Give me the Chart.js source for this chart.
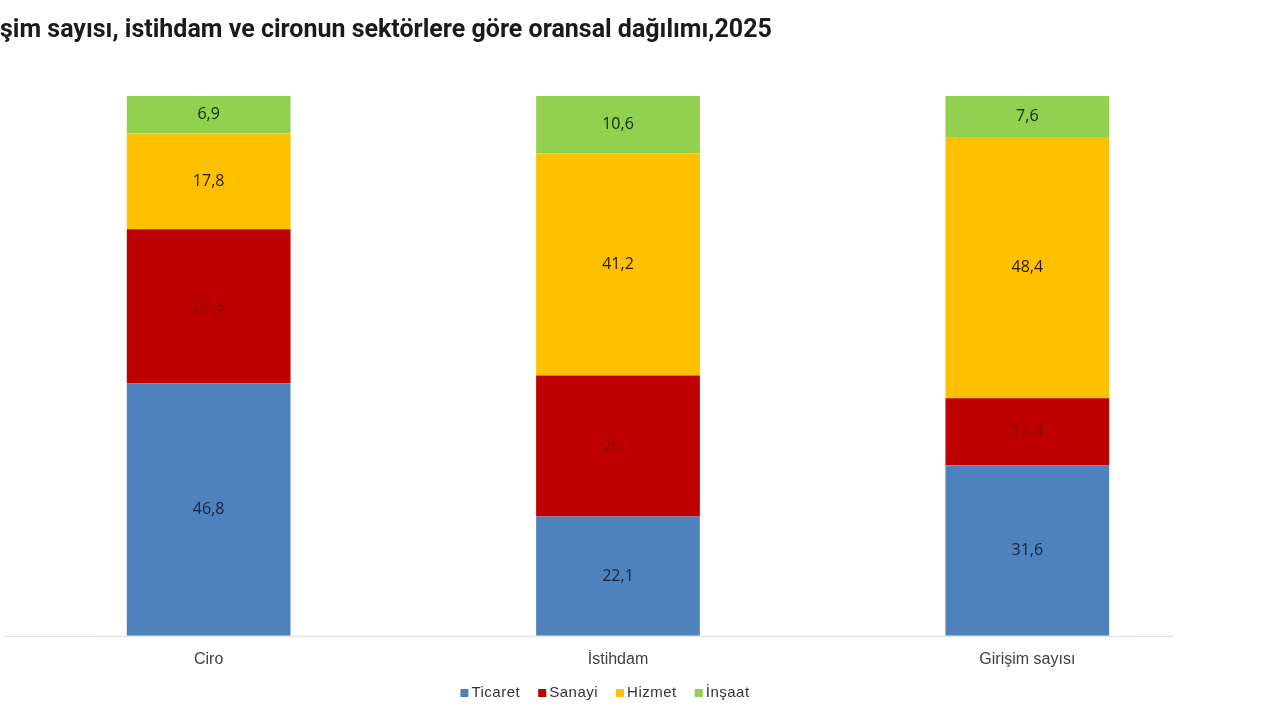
<!DOCTYPE html>
<html>
<head>
<meta charset="utf-8">
<script src="https://cdn.jsdelivr.net/npm/chart.js@4/dist/chart.umd.min.js"></script>
<style>
html,body{margin:0;padding:0;background:#fff;}
#wrap{width:1280px;height:720px;position:relative;}
</style>
</head>
<body>
<div id="wrap"><canvas id="c"></canvas></div>
<script>
const titleText = "Girişim sayısı, istihdam ve cironun sektörlere göre oransal dağılımı,2025";
const categories = ["Ciro", "İstihdam", "Girişim sayısı"];
const seriesNames = ["Ticaret", "Sanayi", "Hizmet", "İnşaat"];
const ticaret = [46.8, 22.1, 31.6];
const sanayi = [28.5, 26.1, 12.4];
const hizmet = [17.8, 41.2, 48.4];
const insaat = [6.9, 10.6, 7.6];
const colors = ["#4F81BD", "#C00000", "#FFC000", "#92D050"];
const labelColors = ["#14233f", "#8E0000", "#2a1a00", "#0f2a00"];

const seriesData = [ticaret, sanayi, hizmet, insaat];

const labelPlugin = {
  id: 'segLabels',
  afterDatasetsDraw(chart) {
    const ctx = chart.ctx;
    ctx.save();
    ctx.font = '16px "Open Sans", "DejaVu Sans", sans-serif';
    ctx.textAlign = 'center';
    ctx.textBaseline = 'middle';
    chart.data.datasets.forEach((ds, i) => {
      const meta = chart.getDatasetMeta(i);
      meta.data.forEach((bar, j) => {
        const v = ds.data[j];
        const y = (bar.y + bar.base) / 2;
        ctx.fillStyle = labelColors[i];
        ctx.fillText(v.toFixed(1).replace('.', ','), bar.x, y);
      });
    });
    ctx.restore();
  }
};

const decoPlugin = {
  id: 'deco',
  beforeDatasetsDraw(chart) {
    const ctx = chart.ctx;
    const a = chart.chartArea;
    ctx.save();
    ctx.strokeStyle = '#d9d9d9';
    ctx.lineWidth = 1;
    ctx.beginPath();
    ctx.moveTo(4, a.bottom + 0.5);
    ctx.lineTo(1173, a.bottom + 0.5);
    ctx.stroke();
    ctx.restore();
  },
  afterDraw(chart) {
    const ctx = chart.ctx;
    ctx.save();
    // title (left part clipped as in the source image)
    ctx.font = 'bold 25px Roboto, "Liberation Sans", sans-serif';
    ctx.fillStyle = '#1a1a1a';
    ctx.textBaseline = 'middle';
    ctx.textAlign = 'left';
    const off = ctx.measureText("Giri").width;
    ctx.fillText(titleText, -off, 31);

    // legend
    ctx.font = '15px "Liberation Sans", Arial, sans-serif';
    if ('letterSpacing' in ctx) ctx.letterSpacing = '0.5px';
    const box = 8, gapBox = 3, gapItem = 18;
    const items = chart.data.datasets.map(ds => ({ t: ds.label, c: ds.backgroundColor, w: ctx.measureText(ds.label).width }));
    const total = items.reduce((s, it) => s + box + gapBox + it.w, 0) + gapItem * (items.length - 1);
    const a = chart.chartArea;
    let x = (a.left + a.right) / 2 - 13 - total / 2;
    const y = 693;
    items.forEach(it => {
      ctx.fillStyle = it.c;
      ctx.fillRect(x, y - box / 2, box, box);
      x += box + gapBox;
      ctx.fillStyle = '#333333';
      ctx.fillText(it.t, x, y);
      x += it.w + gapItem;
    });
    ctx.restore();
  }
};

new Chart(document.getElementById('c'), {
  type: 'bar',
  data: {
    labels: categories,
    datasets: seriesNames.map((n, i) => ({
      label: n,
      data: seriesData[i],
      backgroundColor: colors[i],
      borderWidth: 0,
      categoryPercentage: 0.4,
      barPercentage: 1.0
    }))
  },
  options: {
    responsive: true,
    maintainAspectRatio: false,
    animation: false,
    layout: { padding: { left: 4, right: 48, top: 96, bottom: 37 } },
    plugins: {
      legend: { display: false },
      tooltip: { enabled: false },
      title: { display: false }
    },
    scales: {
      x: {
        stacked: true,
        grid: { display: false, drawTicks: false },
        border: { display: false },
        ticks: {
          color: '#404040', padding: 14,
          font: { size: 16, family: '"Liberation Sans", Arial, sans-serif' }
        }
      },
      y: {
        stacked: true, display: false, min: 0, max: 100
      }
    }
  },
  plugins: [labelPlugin, decoPlugin]
});
</script>
</body>
</html>
